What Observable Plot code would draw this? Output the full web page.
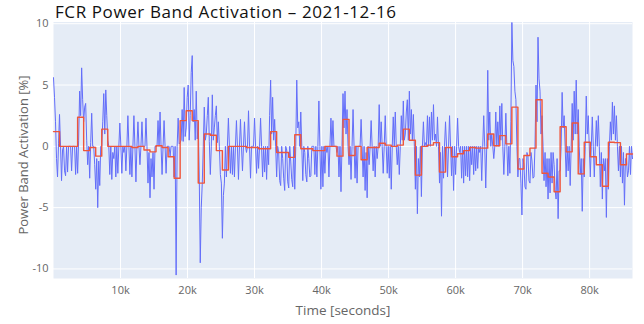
<!DOCTYPE html>
<html><head><meta charset="utf-8">
<script src="https://cdn.jsdelivr.net/npm/d3@7"></script>
<script src="https://cdn.jsdelivr.net/npm/@observablehq/plot@0.6"></script>
<style>
body{margin:0;background:#fff;}
#wrap{position:relative;width:644px;height:324px;font-family:"Open Sans",sans-serif;}
#title{position:absolute;left:55px;top:0px;font-size:17px;color:#111;line-height:normal;white-space:nowrap;letter-spacing:0.6px;}
#ylab{position:absolute;left:23px;top:155px;transform:translate(-50%,-50%) rotate(-90deg);font-size:13px;color:#666;white-space:nowrap;}
#xlab{position:absolute;left:343px;top:310px;transform:translate(-50%,-50%);font-size:13.5px;color:#666;white-space:nowrap;}
svg{overflow:visible;display:block}
</style></head><body>
<div id="wrap">
<div id="chart"></div>
<div id="title">FCR Power Band Activation – 2021-12-16</div>
<div id="ylab">Power Band Activation [%]</div>
<div id="xlab">Time [seconds]</div>
</div>
<script>
// Blue: activation signal sampled every 150 s (0 .. 86400 s)
const blueStepSeconds = 150;
const blueValues = [
5.6, 4.0, 2.0, -1.0, -2.5, 0.2, 2.6, 0, -2.8, -0.3,
0, -2.0, -2.4, 0, -2.1, 0, 0, 0, -2.0, 0,
0, 0, -2.3, 0, -2.2, 0.5, 4.5, 2.5, 6.4, 3.8,
2.0, 3.2, 3.5, 0.5, -1.5, 0, -2.6, 0.3, 2.7, 0,
0, -1.5, -3.5, -1.0, -5.0, -1.2, -3.2, 0, 0, 2.0,
4.3, 1.0, 4.6, 2.5, 0.5, 0, -2.3, 0, -2.7, -0.5,
-1.0, 0, -2.5, 0, -2.2, 0, 1.9, 0, -2.2, 0,
-0.5, 0, -2.0, 0, 2.5, 0, -2.3, 0, -2.5, 0,
2.5, 0, -2.9, 0, 2.0, 0, -1.5, 0, 2.0, 0,
0, 0, 2.3, 0, -3.0, -0.5, -4.2, -1.0, -2.5, -0.5,
-3.5, 0, 0, 0, 2.1, 0, 2.8, 0, -2.3, 0,
2.1, 0, -2.2, 0, 0, 0, -0.8, 0, 0, 0,
-2.5, 0, -10.5, 0, 2.3, 0.2, 0.3, 0.5, 3.0, 0.4,
4.8, 0.8, 1.5, 4.0, 5.0, 0.5, 2.5, 6.0, 7.4, 2.0,
3.0, 0.5, 4.5, 0.6, 2.0, -2.5, -9.5, -5.0, -3.0, 0,
3.2, 0.5, 1.0, 2.5, 4.0, 0.4, -2.3, 0, 4.2, 0.5,
1.5, 2.5, 3.3, 0.3, 2.0, 0, -2.3, -3.0, -7.5, -4.0,
-3.0, 0, -2.5, 0, 2.3, 0, -2.2, 0, -2.3, 0,
-2.5, 0, 2.1, 0, -2.7, 0, 2.2, 0, -2.0, 0,
2.0, 0, -0.5, 0, 2.9, 0, -2.6, 0, 0, 0,
2.3, 0, -2.2, 0, -1.8, 0, 2.3, 0, -2.5, 0,
-2.1, 0, -2.7, 0, -1.5, 2.5, 5.4, 1.0, 4.0, 0.5,
2.2, 0, -2.5, 0, -0.5, -2.8, -3.2, 0, -1.0, -2.6,
-3.6, 0, -0.3, -2.9, -3.4, 0, -1.2, -2.7, -3.3, 0,
-3.5, 0, 5.4, 1.5, 2.0, 0, 2.8, 0, -2.8, 0,
-0.5, -2.3, -2.9, 0, -1.0, -2.5, -2.4, 0, 0, 0,
-2.3, 0, -2.5, 0, 3.7, 0, -3.5, 0, -3.3, 0,
-2.2, 0, -0.5, 0, -2.5, 0, 2.3, 0, 2.1, 0,
0, 0, -0.5, 0, -2.5, 0, -3.7, 0, 4.3, 1.5,
4.5, 1.0, 3.0, 0, -1.5, 0, -2.7, 0, 3.0, 0,
-2.6, 0, -3.0, 0, 0, 0, 2.2, 0, -2.5, 0,
-3.6, -0.5, -4.2, 0, -1.5, 0, 2.1, 0, -2.0, 0,
-2.5, 0, -1.0, 0, 3.4, 0, 2.0, 0, -2.2, 0,
2.5, 0, -2.2, 0, -2.6, 0, -3.5, 0, 2.4, 0,
2.8, 0, -1.5, 0, -2.3, 0, 2.5, 0.5, 3.7, 0.5,
1.0, 2.8, 3.8, 0.5, 4.5, 1.0, 3.0, 0.5, 2.6, 0,
-3.5, 0, -5.5, -1.0, -2.5, 0, -4.1, 0, 2.0, 0,
0.3, 0, 2.5, 0, 2.4, 0, 2.8, 0.5, 3.4, 0.5,
1.0, 0, 2.4, 0, -3.0, -0.5, -5.7, 0, -2.6, 0,
2.0, 0, -2.5, 0, 2.5, 0, -2.4, 0, -3.6, 0,
-2.3, 0, 2.3, 0, -0.5, 0, -2.6, 0, -3.0, 0,
-2.4, 0, -2.5, 0, -2.8, 0, -1.5, 0, -2.3, 0,
-2.0, 0, -1.8, 0, -0.5, 0, -2.8, 0, 2.5, 0,
-3.4, 0, 6.2, 0.5, 2.8, 0, 1.0, 0, -1.0, 0,
2.8, 0, 2.0, 0, 3.3, 0.5, 3.5, 0, -2.3, 0,
2.7, 0, -2.4, 0, -2.2, 2.0, 10.1, 7.0, 6.5, 4.5,
3.8, 0, -2.5, -1.0, -1.0, -3.0, -5.6, -1.0, -1.5, -3.3,
-3.5, -0.5, -0.8, -2.8, -3.0, -0.5, -1.2, -2.6, -2.5, 0,
5.0, 2.0, 8.9, 5.5, 4.5, 1.0, 2.5, 0, -2.8, -0.5,
-3.3, -1.0, -4.3, -1.0, -3.8, -0.5, -3.0, -0.5, -1.5, -3.5,
-4.3, -1.0, -5.9, -2.0, -2.0, 0, 4.4, 1.5, 2.5, 0,
-2.5, 0, -2.0, 0, -3.2, 0, 3.5, 0.5, 4.5, 1.0,
5.4, 1.0, 3.0, 0, -2.3, -1.0, -5.3, -1.0, -2.5, 0,
4.1, 1.0, 2.5, 0, -2.5, 0, 2.4, 0, -2.5, 0,
2.1, 0, 2.5, 0, -3.3, -0.5, -4.3, -1.0, -2.0, -1.0,
-5.8, -1.0, -3.5, 0, 2.0, 0.5, 3.6, 1.0, 3.3, 0.5,
2.5, 0, -2.0, 0, -2.5, 0, -3.0, -0.5, -4.8, -1.0,
-1.0, -2.5, -2.0, 0, -2.3, 0, -1.0
];

// Red: 15-minute block averages (900 s each)
const redStepSeconds = 900;
const redValues = [
1.2, 0, 0, 0, 2.37, -0.35, -0.1, -0.8, 1.4, 0,
0, 0, 0, -0.1, 0, -0.3, -0.45, 0.05, -0.1, -0.85,
-2.6, 2.1, 2.9, 2.1, -3.0, 1.0, 0.9, -0.35, -1.93, 0,
0, 0, -0.1, -0.1, -0.2, -0.2, 1.2, -0.5, -0.5, -0.9,
0.95, -0.2, -0.2, -0.35, -0.35, 0, 0, -0.8, 2.2, -0.75,
0, -1.1, -0.1, -0.1, 0.25, 0.1, 0, 0.1, 1.4, 0.5,
-2.35, 0, 0.1, 0.3, -2.1, -0.1, -0.85, -0.6, -0.35, -0.1,
-0.15, -0.15, 1.0, 0.05, 0.87, 0.2, 3.2, -1.85, -0.75, -0.15,
3.8, -2.2, -2.5, -3.7, 1.6, -0.45, 1.9, -2.25, 0.33, -0.85,
-1.5, -3.25, 0.33, 0.3, -1.5, -0.63
];

const xTicks = [10000, 20000, 30000, 40000, 50000, 60000, 70000, 80000];
const yTicks = [-10, -5, 0, 5, 10];
const xDomain = [0, 86400];
const yDomain = [-10.78, 10.14];

const blueData = blueValues.map((v, i) => ({t: i * blueStepSeconds, v}));
const redData = redValues.map((v, i) => ({t: i * redStepSeconds, v}));
redData.push({t: redValues.length * redStepSeconds, v: redValues[redValues.length - 1]});

const chart = Plot.plot({
  width: 644, height: 324,
  marginLeft: 53, marginRight: 12, marginTop: 21.5, marginBottom: 46,
  style: {background: "transparent", fontFamily: "'Open Sans', sans-serif", fontSize: "11px", color: "#666", overflow: "visible"},
  x: {domain: xDomain},
  y: {domain: yDomain},
  marks: [
    Plot.frame({fill: "#e5ecf6", stroke: "none"}),
    Plot.gridX(xTicks, {stroke: "white", strokeOpacity: 1, strokeWidth: 1}),
    Plot.gridY(yTicks, {stroke: "white", strokeOpacity: 1, strokeWidth: 1}),
    Plot.lineY(blueData, {x: "t", y: "v", stroke: "#636efa", strokeWidth: 1}),
    Plot.lineY(redData, {x: "t", y: "v", stroke: "#ef553b", strokeWidth: 1.4, curve: "step-after"}),
    Plot.axisX(xTicks, {tickFormat: d => d / 1000 + "k", tickSize: 0, tickPadding: 8, label: null}),
    Plot.axisY(yTicks, {tickFormat: d => String(d), tickSize: 0, tickPadding: 5, label: null})
  ]
});
document.getElementById("chart").appendChild(chart);
</script>
</body></html>
